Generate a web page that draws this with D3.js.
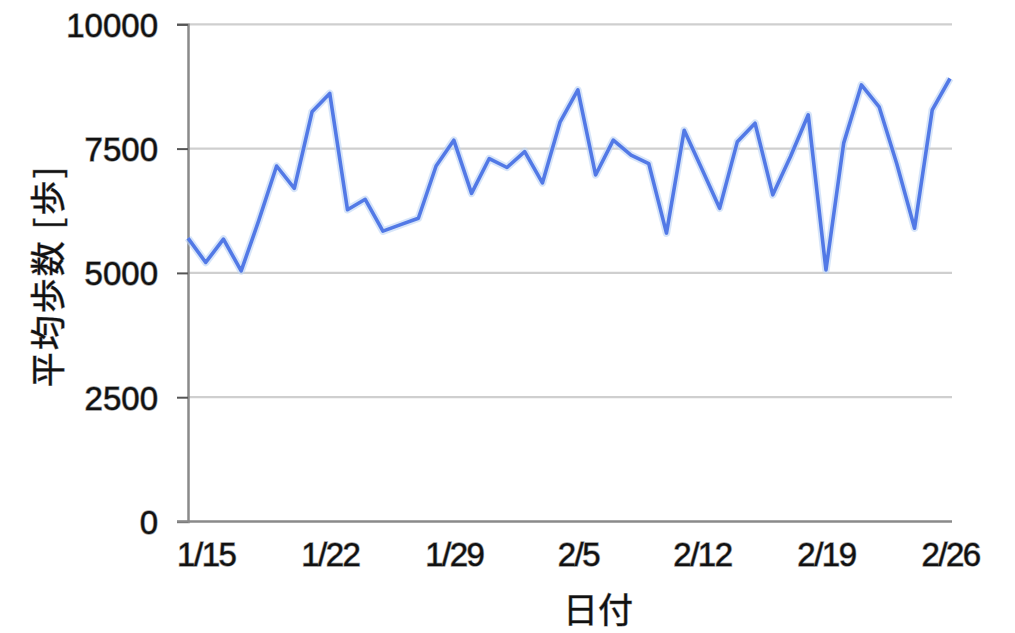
<!DOCTYPE html>
<html>
<head>
<meta charset="utf-8">
<script src="https://cdn.jsdelivr.net/npm/d3@7"></script>
<style>
  body { margin: 0; background: #fff; }
  svg { display: block; }
  .tick-label { font-family: "Liberation Sans", Arial, sans-serif; fill: #111; stroke: #9a9a9a; stroke-width: 1.3px; paint-order: stroke; }
  .axis-title { font-family: "Noto Sans CJK JP", sans-serif; fill: #111; stroke: #9a9a9a; stroke-width: 1px; paint-order: stroke; }
</style>
</head>
<body>
<main></main>
<script>
const dates = [
  "1/14", "1/15", "1/16", "1/17", "1/18", "1/19", "1/20", "1/21", "1/22", "1/23", "1/24",
  "1/25", "1/26", "1/27", "1/28", "1/29", "1/30", "1/31", "2/1", "2/2", "2/3", "2/4",
  "2/5", "2/6", "2/7", "2/8", "2/9", "2/10", "2/11", "2/12", "2/13", "2/14", "2/15",
  "2/16", "2/17", "2/18", "2/19", "2/20", "2/21", "2/22", "2/23", "2/24", "2/25", "2/26"
];
const steps = [
  5700, 5210, 5680, 5040, 6060, 7150, 6700, 8240, 8610, 6270, 6480,
  5840, 5970, 6100, 7150, 7670, 6600, 7300, 7120, 7440, 6810, 8040,
  8680, 6970, 7670, 7370, 7200, 5800, 7870, 7090, 6300, 7640, 8010,
  6570, 7340, 8180, 5060, 7610, 8780, 8340, 7190, 5900, 8280, 8910
];
const xTickLabels = ["1/15", "1/22", "1/29", "2/5", "2/12", "2/19", "2/26"];
const yTicks = [0, 2500, 5000, 7500, 10000];

const margin = { top: 24.3, right: 65, bottom: 111.5, left: 188 };
const width = 1015 - margin.left - margin.right;
const height = 633 - margin.top - margin.bottom;
const parseDay = d3.timeParse("%m/%d");

const data = dates.map((d, i) => ({ date: parseDay(d), value: steps[i] }));

const svg = d3.select("main")
  .append("svg")
  .attr("width", 1015)
  .attr("height", 633)
  .append("g")
  .attr("transform", "translate(" + margin.left + "," + margin.top + ")");

const x = d3.scaleTime()
  .domain(d3.extent(data, d => d.date))
  .range([0, width]);
const y = d3.scaleLinear()
  .domain([0, 10000])
  .range([height, 0]);

// gridlines
svg.append("g")
  .selectAll("line")
  .data(yTicks.filter(t => t > 0))
  .enter()
  .append("line")
  .attr("x1", 0)
  .attr("x2", width + 2)
  .attr("y1", d => y(d))
  .attr("y2", d => y(d))
  .attr("stroke", "#cfcfcf")
  .attr("stroke-width", 2.2);

// y axis
const yAxis = d3.axisLeft(y).tickValues(yTicks).tickFormat(d3.format("d")).tickSize(11).tickPadding(19);
const gy = svg.append("g").call(yAxis);
gy.select(".domain").attr("stroke", "#8a8a8a").attr("stroke-width", 2.5);
gy.selectAll(".tick line").attr("stroke", "#555").attr("stroke-width", 2);
gy.selectAll(".tick text")
  .attr("class", "tick-label")
  .style("font-size", "33px")
  .attr("dy", "0.36em");

// x axis
const xAxis = d3.axisBottom(x)
  .tickValues(xTickLabels.map(parseDay))
  .tickFormat(d3.timeFormat("%-m/%-d"))
  .tickSize(0)
  .tickPadding(21);
const gx = svg.append("g")
  .attr("transform", "translate(0," + height + ")")
  .call(xAxis);
gx.select(".domain")
  .attr("d", "M-11,0H" + (width + 2))
  .attr("stroke", "#8a8a8a")
  .attr("stroke-width", 2.5);
gx.selectAll(".tick text")
  .attr("class", "tick-label")
  .style("font-size", "33px")
  .style("letter-spacing", "-1.5px")
  .attr("dy", "0.71em");

// line
const line = d3.line()
  .x(d => x(d.date))
  .y(d => y(d.value));

svg.append("path")
  .datum(data)
  .attr("fill", "none")
  .attr("stroke", "#bcd3f5")
  .attr("stroke-width", 7.5)
  .attr("stroke-linejoin", "round")
  .attr("opacity", 0.6)
  .attr("d", line);

svg.append("path")
  .datum(data)
  .attr("fill", "none")
  .attr("stroke", "#5279e6")
  .attr("stroke-width", 3.6)
  .attr("stroke-linejoin", "round")
  .attr("d", line);

// axis titles
svg.append("text")
  .attr("class", "axis-title")
  .attr("x", 598 - margin.left)
  .attr("y", height + 102)
  .attr("text-anchor", "middle")
  .style("font-size", "35px")
  .text("日付");

svg.append("text")
  .attr("class", "axis-title")
  .attr("transform", "translate(" + (45 - margin.left) + "," + (276 - margin.top) + ") rotate(-90)")
  .attr("text-anchor", "middle")
  .attr("dominant-baseline", "central")
  .style("font-size", "35px")
  .style("letter-spacing", "2px")
  .text("平均歩数 [歩]");
</script>
</body>
</html>
